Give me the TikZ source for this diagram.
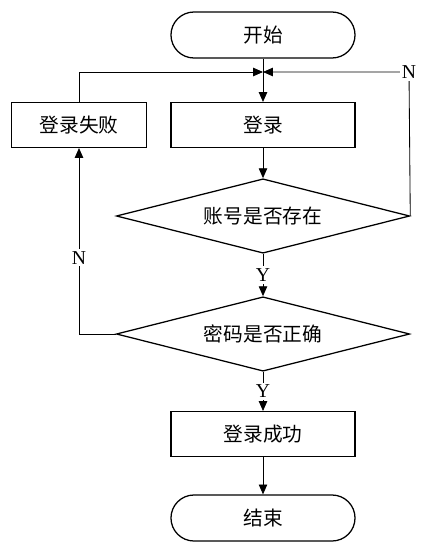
\documentclass[tikz,border=0pt]{standalone}
\usepackage{fontspec}
\setmainfont{Liberation Serif}
\newfontfamily\cjk{Noto Sans CJK SC}
\usetikzlibrary{shapes.geometric,arrows.meta}

\tikzset{
  terminal/.style={draw, line width=0.9pt, rounded corners=0.575cm, minimum width=4.6cm, minimum height=1.15cm, font=\cjk\fontsize{14}{16}\selectfont},
  process/.style={draw, line width=0.9pt, minimum width=4.6cm, minimum height=1.12cm, font=\cjk\fontsize{14}{16}\selectfont},
  decision/.style={draw, line width=0.9pt, diamond, inner sep=0pt, aspect=3.96, minimum width=7.33cm, minimum height=1.86cm, font=\cjk\fontsize{14}{16}\selectfont},
  flow/.style={line width=0.6pt, -{Triangle[width=6pt,length=7pt]}},
  yn/.style={fill=white, inner sep=1.5pt, font=\fontsize{14}{16}\selectfont}
}

\begin{document}
\begin{tikzpicture}[x=0.025cm, y=-0.025cm]
    \useasboundingbox (0,0) rectangle (430,551);
    % Inicio y fin
    \node[terminal] (start) at (263,35) {开始};
    \node[terminal] (finish) at (263,518) {结束};
    % Cajas de proceso
    \node[process] (login) at (263,125) {登录};
    \node[process, minimum width=3.38cm] (fail) at (79,125) {登录失败};
    \node[process] (success) at (263,434) {登录成功};
    % Decisiones
    \node[decision] (user) at (263,216) {账号是否存在};
    \node[decision] (pass) at (263,334) {密码是否正确};
    % Punto de unión sobre la caja de login
    \coordinate (merge) at (263,72);
    % Flujo principal
    \draw[flow] (start) -- (login);
    \draw[flow] (login) -- (user);
    \draw[flow] (user) -- node[yn] {Y} (pass);
    \draw[flow] (pass) -- node[yn] {Y} (success);
    \draw[flow] (success) -- (finish);
    % Retorno cuando la cuenta no existe
    \draw[flow] (user.east) -- (409,72) node[yn] {N} -- (merge);
    % Retorno cuando la contraseña falla
    \draw[flow] (pass.west) -- (79,334) -- node[yn, pos=0.41] {N} (fail.south);
    \draw[flow] (fail.north) -- (79,72) -- (merge);
\end{tikzpicture}
\end{document}
